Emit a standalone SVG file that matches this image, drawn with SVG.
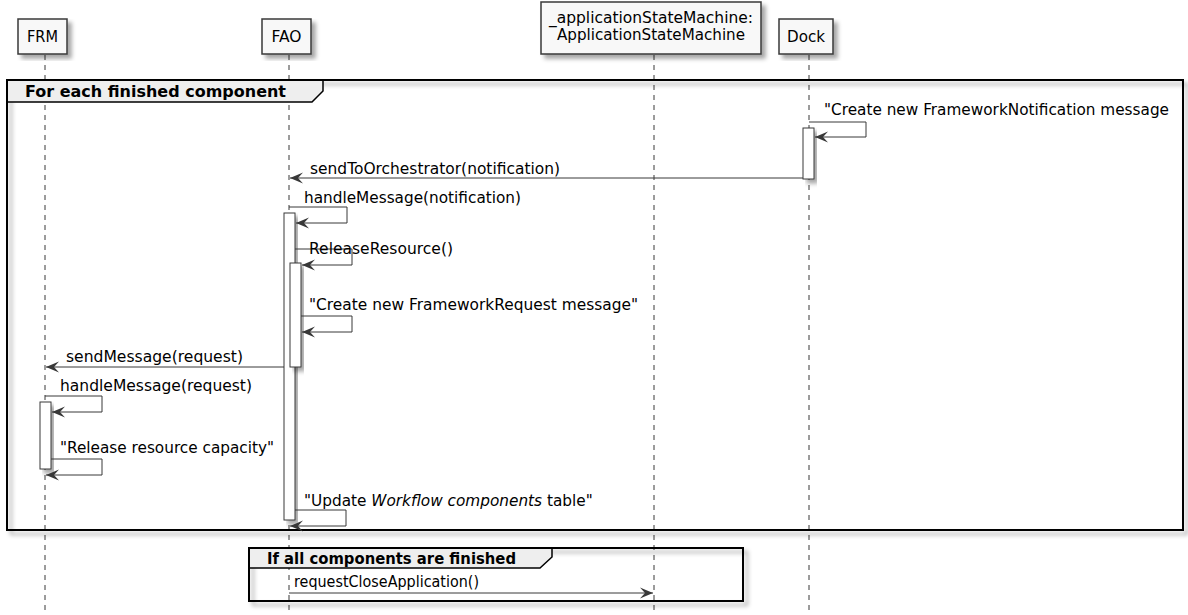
<svg xmlns="http://www.w3.org/2000/svg" width="1188" height="615" viewBox="0 0 1188 615">
<style>
text{font-family:"DejaVu Sans","Liberation Sans",sans-serif;font-size:15.3px;fill:#000}
.b{font-weight:bold}
.part{fill:#F8F8F8;stroke:#383838;stroke-width:1.5}
.life{stroke:#383838;stroke-width:1;stroke-dasharray:5,5;fill:none}
.act{fill:#FFFFFF;stroke:#383838;stroke-width:1}
.msg{stroke:#383838;stroke-width:1;fill:none}
.frame{fill:none;stroke:#000;stroke-width:2}
.tab{fill:#EEEEEE;stroke:#000;stroke-width:1.5}
</style>
<defs>
<filter id="sh" x="-10%" y="-10%" width="130%" height="130%">
<feGaussianBlur in="SourceAlpha" stdDeviation="2" result="b"/>
<feOffset in="b" dx="4" dy="4" result="o"/>
<feColorMatrix in="o" type="matrix" values="0 0 0 0 0  0 0 0 0 0  0 0 0 0 0  0 0 0 0.35 0" result="c"/>
<feMerge><feMergeNode in="c"/><feMergeNode in="SourceGraphic"/></feMerge>
</filter>
<marker id="ah" markerWidth="14" markerHeight="12" refX="13" refY="6" orient="auto" markerUnits="userSpaceOnUse">
<polygon points="0,0.5 13,6 0,11.5 5,6" fill="#383838"/>
</marker>
</defs>

<g id="lifelines">
<line class="life" x1="45" y1="55" x2="45" y2="615"/>
<line class="life" x1="289" y1="55" x2="289" y2="615"/>
<line class="life" x1="654" y1="55" x2="654" y2="615"/>
<line class="life" x1="809" y1="55" x2="809" y2="615"/>
</g>

<g id="FRM">
<rect class="part" x="18" y="19" width="49" height="35" filter="url(#sh)"/>
<text x="42.5" y="42" text-anchor="middle" textLength="31" lengthAdjust="spacingAndGlyphs">FRM</text>
</g>
<g id="FAO">
<rect class="part" x="262" y="19" width="49" height="35" filter="url(#sh)"/>
<text x="286.5" y="42" text-anchor="middle" textLength="30" lengthAdjust="spacingAndGlyphs">FAO</text>
</g>
<g id="ASM">
<rect class="part" x="541" y="2" width="220" height="52" filter="url(#sh)"/>
<text x="651" y="23" text-anchor="middle" textLength="204" lengthAdjust="spacingAndGlyphs">_applicationStateMachine:</text>
<text x="651" y="40" text-anchor="middle" textLength="188" lengthAdjust="spacingAndGlyphs">ApplicationStateMachine</text>
</g>
<g id="Dock">
<rect class="part" x="779" y="19" width="54" height="35" filter="url(#sh)"/>
<text x="806" y="42" text-anchor="middle" textLength="38" lengthAdjust="spacingAndGlyphs">Dock</text>
</g>

<g id="frame1">
<rect class="frame" x="7" y="80" width="1176" height="450" filter="url(#sh)"/>
<path class="tab" d="M7,80 L323,80 L323,91 L312,102 L7,102 Z"/>
<rect x="7" y="80" width="1176" height="450" fill="none" stroke="#000" stroke-width="2"/>
<text class="b" x="25" y="97" textLength="261" lengthAdjust="spacingAndGlyphs">For each finished component</text>
</g>

<g id="activations">
<rect class="act" x="803" y="128" width="11" height="51" filter="url(#sh)"/>
<rect class="act" x="284" y="213" width="11" height="307" filter="url(#sh)"/>
<rect class="act" x="290" y="263" width="11" height="104" filter="url(#sh)"/>
<rect class="act" x="40" y="402" width="11" height="67" filter="url(#sh)"/>
</g>

<g id="connectors">
<polyline class="msg" points="809,122 866,122 866,137 815,137" marker-end="url(#ah)"/>
<line class="msg" x1="803" y1="178" x2="290" y2="178" marker-end="url(#ah)"/>
<polyline class="msg" points="289,207 347,207 347,223 296,223" marker-end="url(#ah)"/>
<polyline class="msg" points="295,249 352,249 352,265 302,265" marker-end="url(#ah)"/>
<polyline class="msg" points="301,316 352,316 352,332 302,332" marker-end="url(#ah)"/>
<line class="msg" x1="284" y1="367" x2="46" y2="367" marker-end="url(#ah)"/>
<polyline class="msg" points="45,396 102,396 102,412 52,412" marker-end="url(#ah)"/>
<polyline class="msg" points="51,459 102,459 102,475 46,475" marker-end="url(#ah)"/>
<polyline class="msg" points="295,510 346,510 346,526 290,526" marker-end="url(#ah)"/>
<line class="msg" x1="289" y1="593" x2="653" y2="593" marker-end="url(#ah)"/>
</g>

<g id="labels">
<text x="824" y="115" textLength="345" lengthAdjust="spacingAndGlyphs">"Create new FrameworkNotification message</text>
<text x="310" y="174" textLength="250" lengthAdjust="spacingAndGlyphs">sendToOrchestrator(notification)</text>
<text x="304" y="203" textLength="217" lengthAdjust="spacingAndGlyphs">handleMessage(notification)</text>
<text x="309" y="254" textLength="144" lengthAdjust="spacingAndGlyphs">ReleaseResource()</text>
<text x="309" y="310" textLength="329" lengthAdjust="spacingAndGlyphs">"Create new FrameworkRequest message"</text>
<text x="66" y="362" textLength="177" lengthAdjust="spacingAndGlyphs">sendMessage(request)</text>
<text x="60" y="391" textLength="192" lengthAdjust="spacingAndGlyphs">handleMessage(request)</text>
<text x="60" y="453" textLength="214" lengthAdjust="spacingAndGlyphs">"Release resource capacity"</text>
<text x="304" y="506">"Update <tspan font-style="italic">Workflow components</tspan> table"</text>
</g>

<g id="frame2">
<rect class="frame" x="249" y="548" width="494" height="53" filter="url(#sh)" fill="none"/>
<path class="tab" d="M249,548 L552,548 L552,557 L540,568 L249,568 Z"/>
<rect x="249" y="548" width="494" height="53" fill="none" stroke="#000" stroke-width="2"/>
<text class="b" x="267" y="564" textLength="249" lengthAdjust="spacingAndGlyphs">If all components are finished</text>
<text x="294" y="587" textLength="185" lengthAdjust="spacingAndGlyphs">requestCloseApplication()</text>
</g>
</svg>
